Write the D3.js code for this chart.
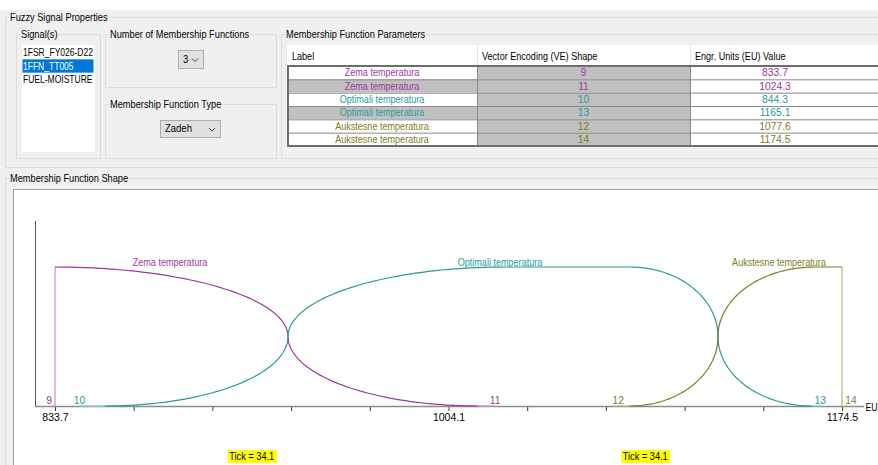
<!DOCTYPE html>
<html><head><meta charset="utf-8">
<script src="https://cdn.jsdelivr.net/npm/d3@7"></script>
<style>body{margin:0;overflow:hidden;background:#f0f0f0}text{font-family:"Liberation Sans",Arial,sans-serif}</style>
</head><body>
<script>
// ---------- data ----------
const signals = ["1FSR_FY026-D22","1FFN_TT005","FUEL-MOISTURE"];
const selectedSignal = 1;
const mfCount = "3";
const mfType = "Zadeh";
const mfNames = ["Zema temperatura","Optimali temperatura","Aukstesne temperatura"];
const rowMf = [0,0,1,1,2,2];
const veShape = [9,11,10,13,12,14];
const euValue = [833.7,1024.3,844.3,1165.1,1077.6,1174.5];
const headers = ["Label","Vector Encoding (VE) Shape","Engr. Units (EU) Value"];
// curve breakpoints (EU)
const riseZero = [null, 855.3, 1082.7];
const riseHalf = [null, 934.6, 1120.8];
const riseOne  = [833.7, 1028.6, 1162.8];
const fallOne  = [833.7, 1082.7, 1174.5];
const fallHalf = [934.6, 1120.8, null];
const fallZero = [1016.9, 1161.5, null];
const labelAt  = [883.5, 1026.4, 1147.2];
const euMin = 833.7, euMax = 1174.5, tickStep = 34.08;
const tickLabelValues = [833.7, 1004.1, 1174.5];
const tickNote = "Tick = 34.1";
const tickNoteAt = [918.9, 1089.3];
const unitLabel = "EU";

// ---------- styles ----------
const mfColors = ["#a136a1","#2a9a9a","#7d7d25"];
const mfLight  = ["#cf98cf","#8ccccc","#bcbc88"];
const labelShaded = [false,true,false,true,false,false];
const W = 878, H = 465, BG = "#f0f0f0", GB = "#dcdcdc", SQ = 0.88;

const svg = d3.select("body").append("svg").attr("width",W).attr("height",H);
svg.append("rect").attr("width",W).attr("height",H).attr("fill",BG);
svg.append("rect").attr("width",W).attr("height",10).attr("fill","#fff");

function txt(g,x,y,s,o={}){
  const t = g.append("text").attr("class", o.nosq ? null : "sq")
    .attr("x",x).attr("y",y).attr("dy","0.35em")
    .attr("font-size",o.size||10.5).attr("fill",o.fill||"#000")
    .attr("text-anchor",o.anchor||"start")
    .text(s);
  if(o.sq) t.attr("data-sq",o.sq);
  return t;
}
const titles = [];
function group(x,y,w,h,title){
  svg.append("rect").attr("x",x+0.5).attr("y",y+0.5).attr("width",w).attr("height",h)
    .attr("fill","none").attr("stroke",GB);
  const bg = svg.append("rect").attr("fill",BG);
  const t = txt(svg,x+5,y,title);
  titles.push([t,bg]);
}
group(5,17,W,150,"Fuzzy Signal Properties");
group(16,34,84,124,"Signal(s)");
group(105,34,171,53,"Number of Membership Functions");
group(105,104,171,54,"Membership Function Type");
group(281,34,W,124,"Membership Function Parameters");
group(5,178,W,300,"Membership Function Shape");

// signal list
svg.append("rect").attr("x",22).attr("y",45).attr("width",73).attr("height",107).attr("fill","#fff");
const ly = d3.scaleBand().domain(d3.range(signals.length)).range([46,86]);
signals.forEach((s,i)=>{
  if(i===selectedSignal) svg.append("rect").attr("x",22.5).attr("y",ly(i)).attr("width",71).attr("height",ly.bandwidth()).attr("fill","#0078d7");
  txt(svg,23,ly(i)+ly.bandwidth()/2,s,{fill:i===selectedSignal?"#fff":"#000",size:10.5,sq:0.81});
});

// combo boxes
function combo(x,y,w,h,val){
  svg.append("rect").attr("x",x+0.5).attr("y",y+0.5).attr("width",w).attr("height",h)
    .attr("fill","#e1e1e1").attr("stroke","#adadad");
  txt(svg,x+5,y+h/2,val,{size:10.8});
  const cx = x+w-8, cy = y+h/2+1;
  svg.append("path").attr("d",`M${cx-3},${cy-1.5}L${cx},${cy+1.5}L${cx+3},${cy-1.5}`)
    .attr("fill","none").attr("stroke","#444");
}
combo(178,50,25,18,mfCount);
combo(160,120,60,17,mfType);

// parameters table
const colX = [287,477,690,W];
svg.append("rect").attr("x",287).attr("y",45).attr("width",W-287).attr("height",21).attr("fill","#fff");
[477,690].forEach(x=>svg.append("line").attr("x1",x+0.5).attr("x2",x+0.5).attr("y1",45).attr("y2",66).attr("stroke","#e5e5e5"));
headers.forEach((h,j)=>txt(svg,colX[j]+5,56,h,{size:10.3}));
const ry = d3.scaleBand().domain(d3.range(veShape.length)).range([66,146]);
const cellTexts = [i=>mfNames[rowMf[i]], i=>String(veShape[i]), i=>euValue[i].toFixed(1)];
veShape.forEach((v,i)=>{
  const fills = [labelShaded[i] ? "#c0c0c0" : "#fff", "#c0c0c0", "#fff"];
  for(let j=0;j<3;j++){
    svg.append("rect").attr("x",colX[j]).attr("y",ry(i)).attr("width",colX[j+1]-colX[j]).attr("height",ry.bandwidth()).attr("fill",fills[j]);
    const cx = j===2 ? 775 : (colX[j]+colX[j+1])/2;
    txt(svg,cx,ry(i)+ry.bandwidth()/2,cellTexts[j](i),{anchor:"middle",size:10.3,fill:mfColors[rowMf[i]],nosq:j>0});
  }
});
d3.range(1,veShape.length).forEach(i=>svg.append("line").attr("x1",287).attr("x2",W).attr("y1",ry(i)+0.5).attr("y2",ry(i)+0.5).attr("stroke","#8a8a8a"));
[477,690].forEach(x=>svg.append("line").attr("x1",x+0.5).attr("x2",x+0.5).attr("y1",66).attr("y2",146).attr("stroke","#8a8a8a"));
svg.append("line").attr("x1",287).attr("x2",W).attr("y1",66).attr("y2",66).attr("stroke","#6d6d6d").attr("stroke-width",2);
svg.append("line").attr("x1",287).attr("x2",W).attr("y1",146).attr("y2",146).attr("stroke","#6d6d6d").attr("stroke-width",2);
svg.append("line").attr("x1",288).attr("x2",288).attr("y1",66).attr("y2",147).attr("stroke","#6d6d6d").attr("stroke-width",2);

// ---------- shape plot ----------
svg.append("rect").attr("x",13).attr("y",189).attr("width",W-13).attr("height",H-189).attr("fill","#fff");
svg.append("path").attr("d",`M13.5,${H}V189.5H${W}`).attr("fill","none").attr("stroke","#a0a0a0");

const x = d3.scaleLinear().domain([euMin,euMax]).range([55,842]);
const y = d3.scaleLinear().domain([0,1]).range([406,267]);

// axes
svg.append("line").attr("x1",35.5).attr("x2",35.5).attr("y1",221).attr("y2",406).attr("stroke","#555");
const ticks = d3.range(0,11).map(k=>euMin+k*tickStep);
const ax = svg.append("g").attr("transform","translate(0,407)")
  .call(d3.axisBottom(x).tickValues(ticks).tickSize(4).tickPadding(3)
    .tickFormat(v=>{const m=tickLabelValues.find(t=>Math.abs(t-v)<0.2); return m===undefined?"":m.toFixed(1);}));
ax.select(".domain").remove();
ax.selectAll(".tick line").attr("stroke","#333");
ax.selectAll(".tick text").attr("font-size",10.5).attr("fill","#000").attr("font-family","Liberation Sans, Arial, sans-serif");
svg.append("line").attr("x1",35).attr("x2",864).attr("y1",406.5).attr("y2",406.5).attr("stroke","#8c8c8c").attr("stroke-width",1.6);
txt(svg,865.5,407,unitLabel,{size:10});

// membership curves
const N = 48;
function arcHV(p0,p1){return d3.range(1,N+1).map(k=>{const t=k/N*Math.PI/2;return [p0[0]+(p1[0]-p0[0])*Math.sin(t), p1[1]+(p0[1]-p1[1])*Math.cos(t)];});}
function arcVH(p0,p1){return d3.range(1,N+1).map(k=>{const t=k/N*Math.PI/2;return [p1[0]-(p1[0]-p0[0])*Math.cos(t), p0[1]+(p1[1]-p0[1])*Math.sin(t)];});}
const line = d3.line().x(d=>x(d[0])).y(d=>y(d[1]));

mfNames.forEach((name,i)=>{
  let pts = [];
  const light = [];
  const leftParam = euValue[2*i], rightParam = euValue[2*i+1];
  if(riseZero[i]===null){
    light.push([[riseOne[i],0],[riseOne[i],1]]);
    pts.push([riseOne[i],1]);
  } else {
    light.push([[leftParam,0],[riseZero[i],0]]);
    const a=[riseZero[i],0], b=[riseHalf[i],0.5], c=[riseOne[i],1];
    pts.push(a); pts = pts.concat(arcHV(a,b), arcVH(b,c));
  }
  pts.push([fallOne[i],1]);
  if(fallHalf[i]===null){
    light.push([[fallOne[i],1],[fallOne[i],0]]);
  } else {
    const a=[fallOne[i],1], b=[fallHalf[i],0.5], c=[fallZero[i],0];
    pts = pts.concat(arcHV(a,b), arcVH(b,c));
    light.push([[fallZero[i],0],[rightParam,0]]);
  }
  light.forEach(seg=>svg.append("path").attr("d",line(seg)).attr("fill","none").attr("stroke",mfLight[i]).attr("stroke-width",1.3));
  svg.append("path").attr("d",line(pts)).attr("fill","none").attr("stroke",mfColors[i]).attr("stroke-width",1.2);
  txt(svg,x(labelAt[i]),262,name,{anchor:"middle",size:10.3,fill:mfColors[i]});
});

// VE labels at the axis
veShape.forEach((v,i)=>{
  const e = euValue[i];
  const off = e===euMin ? -6 : (e===euMax ? 9 : 0);
  txt(svg,x(e)+off,400.5,String(v),{anchor:"middle",size:10.3,fill:mfColors[rowMf[i]],nosq:true});
});

// tick notes
tickNoteAt.forEach(e=>{
  const g = svg.append("g");
  g.append("rect").attr("x",x(e)-24).attr("y",450).attr("width",49).attr("height",13).attr("fill","#ffff00");
  txt(g,x(e),456.5,tickNote,{anchor:"middle",size:10.8,nosq:true}).attr("textLength",45).attr("lengthAdjust","spacingAndGlyphs");
});

// squeeze text to the narrow UI font width
svg.selectAll("text.sq").each(function(){
  const L = this.getComputedTextLength();
  const f = +(this.getAttribute("data-sq") || SQ);
  d3.select(this).attr("textLength",L*f).attr("lengthAdjust","spacingAndGlyphs");
});
titles.forEach(([t,bg])=>{
  const b = t.node().getBBox();
  const L = t.node().getComputedTextLength()*SQ;
  bg.attr("x",b.x-1).attr("y",b.y).attr("width",L+2).attr("height",b.height);
  t.raise();
});
</script>
</body></html>
